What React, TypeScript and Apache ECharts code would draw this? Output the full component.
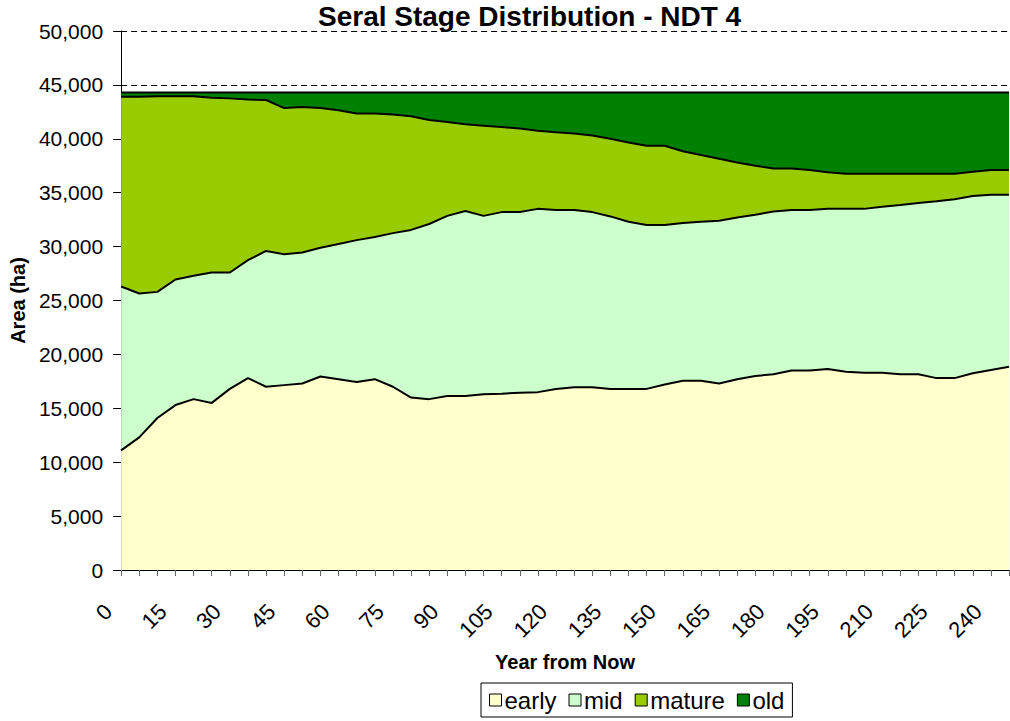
import React, { useEffect, useRef } from "react";
import * as echarts from "echarts";

const years: string[] = [
  "0","5","10","15","20","25","30","35","40","45","50","55","60","65","70","75","80","85","90","95",
  "100","105","110","115","120","125","130","135","140","145","150","155","160","165","170","175","180","185","190","195",
  "200","205","210","215","220","225","230","235","240","245",
];

const early: number[] = [
  11100,12300,14100,15300,15850,15500,16800,17800,17000,17150,
  17300,17950,17700,17450,17700,17000,16000,15850,16150,16150,
  16300,16350,16450,16500,16800,16950,16950,16800,16800,16800,
  17200,17550,17550,17300,17700,18000,18150,18500,18500,18650,
  18400,18300,18300,18150,18150,17800,17800,18250,18550,18850,
];

const mid: number[] = [
  15200,13350,11700,11650,11450,12100,10800,10950,12600,12150,
  12150,11950,12550,13150,13200,14250,15550,16250,16700,17150,
  16550,16850,16750,17000,16600,16450,16250,16000,15500,15200,
  14800,14650,14750,15100,15000,14950,15100,14900,14900,14850,
  15100,15200,15400,15700,15900,16400,16600,16450,16250,15950,
];

const mature: number[] = [
  17600,18250,18150,17000,16650,16200,16150,14900,14000,13550,
  13500,12950,12400,11750,11450,11000,10550,9650,8700,8050,
  8350,7900,7750,7250,7200,7100,7100,7200,7350,7350,
  7350,6650,6200,5750,5100,4550,4000,3850,3700,3400,
  3250,3250,3050,2900,2700,2550,2350,2250,2300,2300,
];

const old: number[] = [
  400,400,350,350,350,500,550,650,700,1450,
  1350,1450,1650,1950,1950,2050,2200,2550,2750,2950,
  3100,3200,3350,3550,3700,3800,4000,4300,4650,4950,
  4950,5450,5800,6150,6500,6800,7050,7050,7200,7400,
  7550,7550,7550,7550,7550,7550,7550,7350,7200,7200,
];

const seriesNames = ["early", "mid", "mature", "old"];
const seriesColors = ["#FFFFCC", "#CCFFCC", "#99CC00", "#008000"];

const FONT = "'Liberation Sans', Arial, sans-serif";

export default function App() {
  const ref = useRef<HTMLDivElement>(null);
  useEffect(() => {
    if (!ref.current) return;
    const chart = echarts.init(ref.current, undefined, { renderer: "svg" });
    const dataSets = [early, mid, mature, old];
    chart.setOption({
      animation: false,
      textStyle: { fontFamily: FONT, color: "#000" },
      title: {
        text: "Seral Stage Distribution - NDT 4",
        left: 318,
        top: 2,
        padding: 0,
        textStyle: { fontFamily: FONT, fontSize: 28, fontWeight: "bold", color: "#000" },
      },
      legend: {
        left: 481,
        top: 683,
        padding: [5, 8],
        borderColor: "#000",
        borderWidth: 1,
        itemGap: 12,
        itemWidth: 12,
        itemHeight: 12,
        icon: "rect",
        data: seriesNames.map((n, i) => ({
          name: n,
          itemStyle: { color: seriesColors[i], borderColor: "#000", borderWidth: 1 },
        })),
        textStyle: { fontFamily: FONT, fontSize: 24, color: "#000", padding: [0, 0, 0, -2] },
      },
      grid: { left: 118, right: 1, top: 31, bottom: 151, containLabel: false },
      xAxis: {
        type: "category",
        data: years,
        boundaryGap: false,
        name: "Year from Now",
        nameLocation: "middle",
        nameGap: 82,
        nameTextStyle: { fontFamily: FONT, fontSize: 20, fontWeight: "bold", color: "#000" },
        axisLine: { lineStyle: { color: "#000", width: 1 } },
        axisTick: { show: true, interval: 0, length: 6, lineStyle: { color: "#666" } },
        axisLabel: {
          interval: 2,
          rotate: 45,
          margin: 25,
          padding: [0, 18, 0, 0],
          fontFamily: FONT,
          fontSize: 22,
          color: "#000",
        },
        splitLine: { show: false },
      },
      yAxis: {
        type: "value",
        min: 0,
        max: 50000,
        interval: 5000,
        name: "Area (ha)",
        nameLocation: "middle",
        nameGap: 88,
        nameTextStyle: { fontFamily: FONT, fontSize: 20, fontWeight: "bold", color: "#000" },
        axisLine: { show: true, lineStyle: { color: "#000", width: 1 } },
        axisTick: { show: true, length: 8, lineStyle: { color: "#000" } },
        axisLabel: {
          margin: 18,
          fontFamily: FONT,
          fontSize: 21,
          color: "#000",
          formatter: (v: number) => v.toLocaleString("en-US"),
        },
        splitLine: { show: true, lineStyle: { color: "#000", type: [6, 4], width: 1 } },
      },
      series: seriesNames.map((n, i) => ({
        name: n,
        type: "line",
        stack: "total",
        data: dataSets[i],
        symbol: "none",
        smooth: false,
        lineStyle: { color: "#000", width: 2 },
        itemStyle: { color: seriesColors[i] },
        areaStyle: { color: seriesColors[i], opacity: 1 },
        z: 2,
      })),
    });
    return () => chart.dispose();
  }, []);
  return (
    <div
      ref={ref}
      style={{ position: "absolute", left: 0, top: 0, width: 1010, height: 721, background: "#fff" }}
    />
  );
}
